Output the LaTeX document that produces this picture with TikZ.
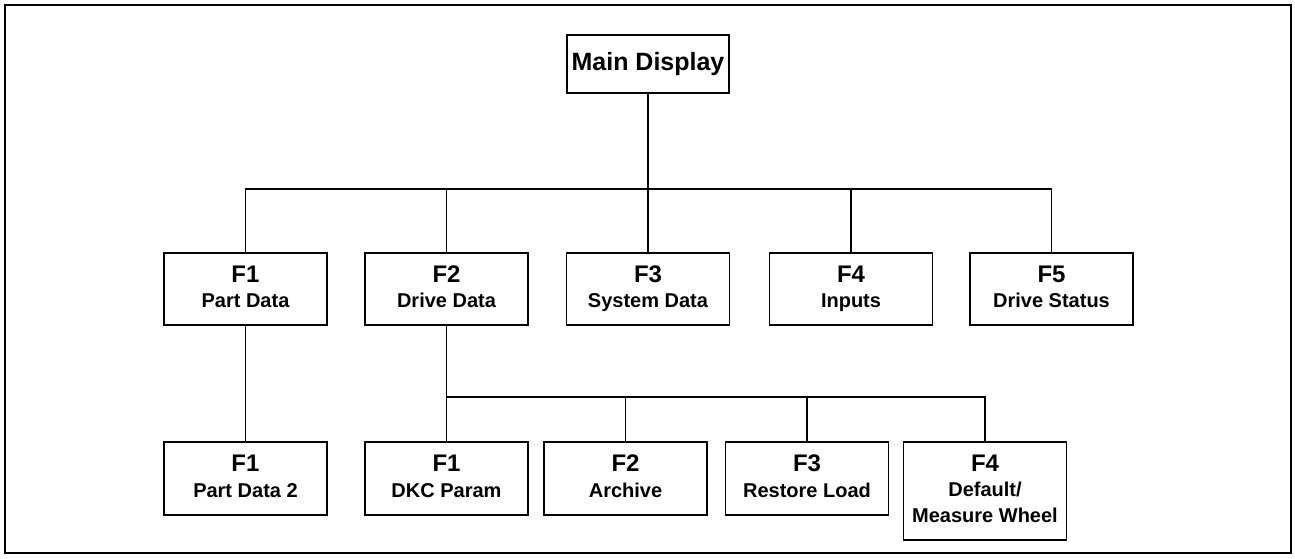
\documentclass[tikz,border=0pt]{standalone}
\usepackage{fontspec}
\setmainfont{Liberation Sans}
\newcommand{\fkey}[1]{{\fontsize{24}{26}\selectfont #1}}
\newcommand{\lastdepth}{\vphantom{y}}
\begin{document}
\begin{tikzpicture}[x=1pt,y=-1pt,
  box/.style={draw=black, line width=1.5pt, fill=white, align=center,
    inner sep=0pt, minimum width=163pt, minimum height=72pt, anchor=north,
    font=\fontsize{20}{25.5}\selectfont\bfseries},
  topbox/.style={box, minimum width=162pt, minimum height=58pt,
    font=\fontsize{25}{28}\selectfont\bfseries},
  conn/.style={draw=black, line width=1.4pt},
  frame/.style={draw=black, line width=2.8pt}]
\useasboundingbox (0,0) rectangle (1295,558);
\draw[frame] (5,5) rectangle (1291,553);

% top
\node[topbox] (main) at (648,34) {Main Display};

% level 2
\node[box] (f1) at (245.5,252) {\fkey{F1}\\Part Data\lastdepth};
\node[box] (f2) at (446.5,252) {\fkey{F2}\\Drive Data\lastdepth};
\node[box] (f3) at (648,252) {\fkey{F3}\\System Data\lastdepth};
\node[box] (f4) at (851,252) {\fkey{F4}\\Inputs\lastdepth};
\node[box] (f5) at (1051.5,252) {\fkey{F5}\\Drive Status\lastdepth};

% level 3
\node[box, minimum height=73pt] (pd2) at (245.5,441) {\fkey{F1}\\Part Data 2\lastdepth};
\node[box, minimum height=73pt] (dkc) at (446.5,441) {\fkey{F1}\\DKC Param\lastdepth};
\node[box, minimum height=73pt] (arc) at (625.5,441) {\fkey{F2}\\Archive\lastdepth};
\node[box, minimum height=73pt] (rst) at (807,441) {\fkey{F3}\\Restore Load\lastdepth};
\node[box, minimum height=98pt] (dmw) at (985,441) {\fkey{F4}\\Default/\\Measure Wheel\lastdepth};

% buses
\coordinate (busA) at (0,189);
\coordinate (busB) at (0,397);

% connectors level 1 -> 2
\draw[conn] (main.south) -- (main.south |- busA);
\draw[conn] (f1.north) -- (f1.north |- busA) -- (f5.north |- busA) -- (f5.north);
\draw[conn] (f2.north) -- (f2.north |- busA);
\draw[conn] (f3.north) -- (f3.north |- busA);
\draw[conn] (f4.north) -- (f4.north |- busA);

% level 2 -> 3
\draw[conn] (f1.south) -- (pd2.north);
\draw[conn] (f2.south) -- (dkc.north);
\draw[conn] (dkc.north |- busB) -- (dmw.north |- busB) -- (dmw.north);
\draw[conn] (arc.north) -- (arc.north |- busB);
\draw[conn] (rst.north) -- (rst.north |- busB);
\end{tikzpicture}
\end{document}
